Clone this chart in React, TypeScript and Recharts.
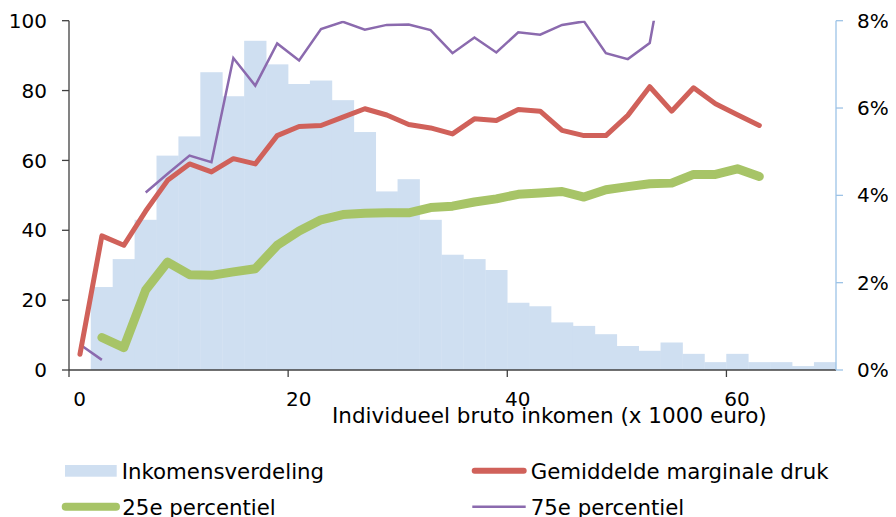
import { ComposedChart, Bar, Line, XAxis, YAxis, Legend, Label } from "recharts";

const FONT = "'DejaVu Sans', Verdana, sans-serif";

// midpoints of the income brackets (x 1000 euro)
const incomeMid = [1, 3, 5, 7, 9, 11, 13, 15, 17, 19, 21, 23, 25, 27, 29, 31, 33, 35, 37, 39, 41, 43, 45, 47, 49, 51, 53, 55, 57, 59, 61, 63, 65, 67, 69];

// share of people per bracket (%), right axis
const incomeShare = [null, 1.9, 2.54, 3.44, 4.91, 5.35, 6.82, 6.27, 7.54, 7.0, 6.55, 6.63, 6.18, 5.45, 4.09, 4.37, 3.44, 2.64, 2.54, 2.29, 1.54, 1.46, 1.09, 1.01, 0.82, 0.55, 0.44, 0.63, 0.37, 0.18, 0.37, 0.18, 0.18, 0.09, 0.18];

// marginal pressure (%), left axis
const avgPressure = [4.5, 38.4, 35.7, 45.5, 54.3, 59.0, 56.7, 60.5, 59.0, 67.1, 69.7, 70.0, 72.4, 74.8, 73.0, 70.3, 69.3, 67.6, 71.9, 71.4, 74.6, 74.1, 68.6, 67.1, 67.1, 72.9, 81.1, 74.1, 80.8, 76.2, 73.1, 70.0, null, null, null];
const p25 = [null, 9.3, 6.4, 22.9, 30.9, 27.3, 27.1, 28.1, 29.0, 35.7, 39.8, 43.0, 44.5, 44.9, 45.0, 45.0, 46.5, 46.9, 48.1, 49.0, 50.3, 50.7, 51.1, 49.5, 51.6, 52.5, 53.3, 53.5, 56.0, 56.0, 57.6, 55.4, null, null, null];
const p75 = [7.3, 2.9, null, 50.8, 56.2, 61.4, 59.5, 89.3, 81.4, 93.5, 88.6, 97.6, 99.7, 97.4, 98.8, 98.9, 97.3, 90.7, 95.2, 90.9, 96.7, 96.0, 98.8, 99.8, 90.7, 89.0, 93.6, 128, null, null, null, null, null, null, null];

const xTicks = [0, 20, 40, 60];
const leftTicks = [0, 20, 40, 60, 80, 100];
const rightTicks = [0, 2, 4, 6, 8];

const data = incomeMid.map((x, i) => ({
  x,
  share: incomeShare[i],
  avg: avgPressure[i],
  p25: p25[i],
  p75: p75[i],
}));

const BLUE = "#CFDFF1";
const RED = "#D0615A";
const GREEN = "#A7C467";
const PURPLE = "#8B6AAE";
const AXIS = "#404040";

const XTick = ({ x, y, payload }: any) => (
  <text x={x + 10.5} y={y} dy="0.355em" textAnchor="middle" fontSize={20} fontFamily={FONT} fill="#000">
    {payload.value}
  </text>
);

// histogram bars touch each other: keep recharts' centre, use full bracket width
const HIST_W = 22.3;
const HistBar = (p: any) => {
  if (!p.height) return <g />;
  const cx = p.x + p.width / 2;
  return <rect x={cx - HIST_W / 2} y={p.y} width={HIST_W} height={p.height} fill={BLUE} />;
};

const LegendBox = () => (
  <svg width={880} height={69} style={{ display: "block" }}>
    <g fontFamily={FONT} fontSize={21.3} fill="#000">
      <rect x={57} y={17} width={51.7} height={11.7} fill={BLUE} />
      <text x={113.7} y={23.3} dominantBaseline="central">Inkomensverdeling</text>
      <line x1={466.7} x2={515.7} y1={22.7} y2={22.7} stroke={RED} strokeWidth={6} strokeLinecap="round" />
      <text x={522.7} y={23.3} dominantBaseline="central">Gemiddelde marginale druk</text>
      <line x1={57.7} x2={108} y1={58.7} y2={58.7} stroke={GREEN} strokeWidth={8} strokeLinecap="round" />
      <text x={114.3} y={59} dominantBaseline="central">25e percentiel</text>
      <line x1={464.3} x2={517.7} y1={58.7} y2={58.7} stroke={PURPLE} strokeWidth={2.5} />
      <text x={522.7} y={59} dominantBaseline="central">75e percentiel</text>
    </g>
  </svg>
);

export default function App() {
  return (
    <ComposedChart width={880} height={509} data={data} margin={{ top: 12.7, right: 0, bottom: 87, left: 0 }}>
      <XAxis
        dataKey="x"
        type="number"
        domain={[0, 70]}
        ticks={xTicks}
        interval={0}
        height={60}
        tickSize={7}
        tickMargin={22}
        axisLine={{ stroke: AXIS, strokeWidth: 1.3 }}
        tickLine={{ stroke: AXIS, strokeWidth: 1.3 }}
        tick={<XTick />}
      >
        <Label
          content={({ viewBox }: any) => (
            <text
              x={viewBox.x + viewBox.width - 69.3}
              y={viewBox.y + 53}
              textAnchor="end"
              fontSize={21.5}
              fontFamily={FONT}
              fill="#000"
            >
              Individueel bruto inkomen (x 1000 euro)
            </text>
          )}
        />
      </XAxis>
      <YAxis
        yAxisId="left"
        domain={[0, 100]}
        ticks={leftTicks}
        interval={0}
        allowDataOverflow
        width={61}
        tickSize={7}
        tickMargin={15}
        axisLine={{ stroke: AXIS, strokeWidth: 1.3 }}
        tickLine={{ stroke: AXIS, strokeWidth: 1.3 }}
        tick={{ fontSize: 20, fill: "#000", fontFamily: FONT }}
      />
      <YAxis
        yAxisId="right"
        orientation="right"
        domain={[0, 8]}
        ticks={rightTicks}
        interval={0}
        width={52}
        tickSize={7}
        tickMargin={14}
        tickFormatter={(v: number) => `${v}%`}
        axisLine={{ stroke: "#9DC3E6", strokeWidth: 1.3 }}
        tickLine={{ stroke: "#9DC3E6", strokeWidth: 1.3 }}
        tick={{ fontSize: 20, fill: "#000", fontFamily: FONT, textAnchor: "start" }}
      />
      <Bar yAxisId="right" dataKey="share" fill={BLUE} barSize={20} shape={<HistBar />} isAnimationActive={false} />
      <Line yAxisId="left" dataKey="p75" stroke={PURPLE} strokeWidth={2.5} dot={false} activeDot={false} isAnimationActive={false} />
      <Line yAxisId="left" dataKey="avg" stroke={RED} strokeWidth={5} strokeLinecap="round" strokeLinejoin="round" dot={false} activeDot={false} isAnimationActive={false} />
      <Line yAxisId="left" dataKey="p25" stroke={GREEN} strokeWidth={9} strokeLinecap="round" strokeLinejoin="round" dot={false} activeDot={false} isAnimationActive={false} />
      <Legend
        layout="vertical"
        align="center"
        verticalAlign="middle"
        wrapperStyle={{ left: 0, top: 440, width: 880, height: 69 }}
        content={() => <LegendBox />}
      />
    </ComposedChart>
  );
}
